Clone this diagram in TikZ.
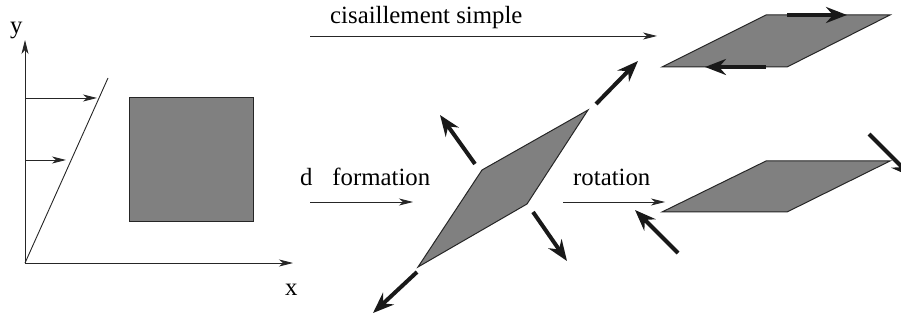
\documentclass[tikz,border=0pt]{standalone}
\usepackage{fontspec}
\setmainfont{Liberation Serif}
\newfontfamily\figfont{Liberation Serif}
\usetikzlibrary{arrows.meta}
\tikzset{
  thinarrow/.style={-{Stealth[length=14pt,width=7pt,inset=4pt]}, line width=0.9pt, black!85},
  force/.style={-{Stealth[length=21pt,width=16pt,inset=7pt]}, line width=4pt, black!90},
  block/.style={fill=black!50, draw=black!85, line width=1pt},
  lbl/.style={font=\figfont\fontsize{24.8}{30}\selectfont, inner sep=0pt, anchor=base west}
}
\begin{document}
\begin{tikzpicture}[x=1pt,y=-1pt]
\clip (0,0) rectangle (901,320);

% axes and shear profile
\coordinate (O) at (25,263);
\coordinate (ytop) at (25,40);
\coordinate (xend) at (293,263);
\coordinate (ptop) at (108,78);
\draw[thinarrow] (O) -- (ytop);
\draw[thinarrow] (O) -- (xend);
\draw[line width=0.9pt, black!85] (O) -- (ptop);
\node[lbl] (ylab) at (10,34) {y};
\node[lbl] (xlab) at (285,295) {x};

\coordinate (va) at (25,98);  \coordinate (vaend) at (97,98);
\coordinate (vb) at (25,160); \coordinate (vbend) at (66,160);
\draw[thinarrow] (va) -- (vaend);
\draw[thinarrow] (vb) -- (vbend);

% initial square
\draw[block] (129,98) rectangle (253,222);

% labels and transformation arrows
\node[lbl] (shear) at (330,24) {cisaillement simple};
\coordinate (sha) at (310,36); \coordinate (shb) at (657,36);
\draw[thinarrow] (sha) -- (shb);

\node[lbl] (deform) at (300,186) {d\hspace{0.8em}formation};
\coordinate (dea) at (310,202); \coordinate (deb) at (413,202);
\draw[thinarrow] (dea) -- (deb);

\node[lbl] (rot) at (573,186) {rotation};
\coordinate (roa) at (563,202); \coordinate (rob) at (665,202);
\draw[thinarrow] (roa) -- (rob);

% pure deformation
\draw[block] (418,267) -- (482,170) -- (588,110) -- (527,204) -- cycle;
\coordinate (ne1) at (596,104); \coordinate (ne2) at (638,61);
\coordinate (sw1) at (417,272); \coordinate (sw2) at (373,313);
\coordinate (nw1) at (475,164); \coordinate (nw2) at (440,115);
\coordinate (se1) at (533,212); \coordinate (se2) at (567,261);
\draw[force] (ne1) -- (ne2);
\draw[force] (sw1) -- (sw2);
\draw[force] (nw1) -- (nw2);
\draw[force] (se1) -- (se2);

% simple shear
\draw[block] (662,67) -- (766,15) -- (890,15) -- (787,67) -- cycle;
\coordinate (ta) at (787,15); \coordinate (tb) at (847,15);
\coordinate (ba) at (766,67); \coordinate (bb) at (705,67);
\draw[force] (ta) -- (tb);
\draw[force] (ba) -- (bb);

% rotation
\draw[block] (662,212) -- (766,161) -- (890,161) -- (787,212) -- cycle;
\coordinate (ra1) at (678,253); \coordinate (ra2) at (635,210);
\coordinate (rb1) at (869,134); \coordinate (rb2) at (912,177);
\draw[force] (ra1) -- (ra2);
\draw[force] (rb1) -- (rb2);
\end{tikzpicture}
\end{document}
